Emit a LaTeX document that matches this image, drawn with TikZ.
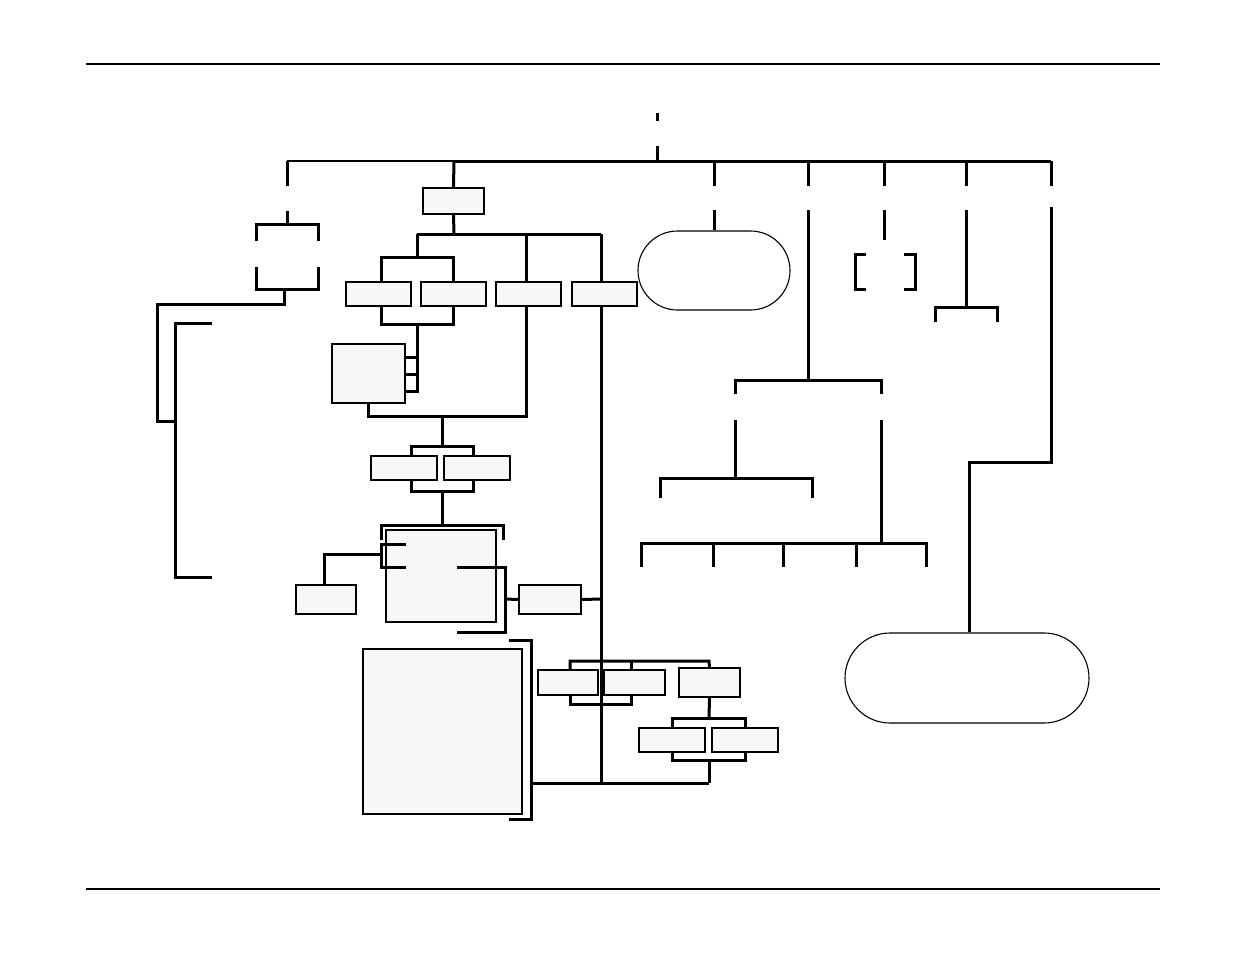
\documentclass[tikz,border=0pt]{standalone}
\begin{document}
\definecolor{boxgray}{HTML}{F7F7F7}
\begin{tikzpicture}[x=1pt,y=-1pt,
  wire/.style={line width=3pt},
  thinwire/.style={line width=2.5pt},
  rule/.style={line width=1.4pt},
  box/.style={draw, fill=boxgray, line width=1.1pt, inner sep=0pt},
  stadium/.style={draw, fill=white, line width=1.1pt, inner sep=0pt}]
\useasboundingbox (0,0) rectangle (1235,954);
% page rules
\coordinate (rl1) at (86,64); \coordinate (rr1) at (1160,64);
\coordinate (rl2) at (86,889); \coordinate (rr2) at (1160,889);
\draw[rule] (rl1) -- (rr1);
\draw[rule] (rl2) -- (rr2);
% boxes
\node[box, minimum width=61pt, minimum height=26pt] (b1) at (453.5,201) {};
\node[box, minimum width=65pt, minimum height=24pt] (bA) at (378.5,294) {};
\node[box, minimum width=65pt, minimum height=24pt] (bB) at (453.5,294) {};
\node[box, minimum width=65pt, minimum height=24pt] (bC) at (528.5,294) {};
\node[box, minimum width=65pt, minimum height=24pt] (bD) at (604.5,294) {};
\node[box, minimum width=73pt, minimum height=59pt] (bE) at (368.5,373.5) {};
\node[box, minimum width=66pt, minimum height=24pt] (bF) at (404,468) {};
\node[box, minimum width=66pt, minimum height=24pt] (bG) at (477,468) {};
\node[box, minimum width=110pt, minimum height=92pt] (bH) at (441,576) {};
\node[box, minimum width=60pt, minimum height=29pt] (bI) at (326,599.5) {};
\node[box, minimum width=62pt, minimum height=29pt] (bJ) at (550,599.5) {};
\node[box, minimum width=60pt, minimum height=25pt] (bK) at (568,682.5) {};
\node[box, minimum width=61pt, minimum height=25pt] (bL) at (634.5,682.5) {};
\node[box, minimum width=61pt, minimum height=29pt] (bM) at (709.5,682.5) {};
\node[box, minimum width=66pt, minimum height=24pt] (bN) at (672,740) {};
\node[box, minimum width=66pt, minimum height=24pt] (bO) at (745,740) {};
\node[box, minimum width=159pt, minimum height=165pt] (bP) at (442.5,731.5) {};
\node[stadium, rounded corners=39.5pt, minimum width=152pt, minimum height=79pt] (s1) at (714,270.5) {};
\node[stadium, rounded corners=45pt, minimum width=244pt, minimum height=90pt] (s2) at (967,678) {};
% top
\coordinate (top) at (657,161);
\draw[wire] (657,113) -- (657,121);
\draw[wire] (657,146) -- (top);
\draw[thinwire] (287,161) -- (454,161);
\draw[wire] (454,161) -- (1051,161);
\foreach \x in {287,714,808,884,966,1051} \draw[wire] (\x,161) -- (\x,186);
% left group
\draw[wire] (287,211) -- (287,224);
\draw[wire] (256,241) -- (256,224) -- (318,224) -- (318,241);
\draw[wire] (256,267) -- (256,289) -- (318,289) -- (318,267);
\draw[wire] (284,289) -- (284,304) -- (157,304) -- (157,421) -- (175,421);
\draw[wire] (212,323) -- (175,323) -- (175,577) -- (212,577);
% box 1 tree
\draw[wire] (454,161) -- (b1.north);
\draw[wire] (b1.south) -- (454,234);
\draw[wire] (417,234) -- (601,234);
\draw[wire] (417,234) -- (417,257);
\draw[wire] (381,282) -- (381,257) -- (453,257) -- (453,282);
\draw[wire] (526,234) -- (526,282);
\draw[wire] (601,234) -- (bD.north -| 601,0);
\draw[wire] (381,306) -- (381,324) -- (453,324) -- (453,306);
\draw[wire] (417,324) -- (417,391) -- (bE.east |- 0,391);
\draw[wire] (bE.east |- 0,357) -- (417,357);
\draw[wire] (bE.east |- 0,374) -- (417,374);
\draw[wire] (368,403) -- (368,416) -- (526,416) -- (526,306);
\draw[wire] (442,416) -- (442,446);
\draw[wire] (411,456) -- (411,446) -- (473,446) -- (473,456);
\draw[wire] (411,480) -- (411,491) -- (473,491) -- (473,480);
\draw[wire] (442,491) -- (442,525);
\draw[wire] (381,540) -- (381,525) -- (503,525) -- (503,540);
\draw[wire] (406,544) -- (381,544) -- (381,567) -- (406,567);
\draw[wire] (381,554) -- (324,554) -- (bI.north -| 324,0);
\draw[wire] (457,567) -- (505,567) -- (505,632) -- (457,632);
\draw[wire] (505,599) -- (bJ.west);
\draw[wire] (bJ.east) -- (601,599);
\draw[wire] (601,306) -- (601,783);
\draw[wire] (570,670) -- (570,661) -- (709,661) -- (bM.north);
\draw[wire] (631,661) -- (631,670);
\draw[wire] (570,695) -- (570,704) -- (631,704) -- (631,695);
\draw[wire] (bM.south) -- (709,718);
\draw[wire] (672,728) -- (672,718) -- (745,718) -- (745,728);
\draw[wire] (672,752) -- (672,760) -- (745,760) -- (745,752);
\draw[wire] (709,760) -- (709,783);
\draw[wire] (531,783) -- (709,783);
\draw[wire] (509,640) -- (531,640) -- (531,819) -- (509,819);
% right part
\draw[wire] (714,210) -- (s1.north);
\draw[wire] (808,210) -- (808,380);
\draw[wire] (735,394) -- (735,380) -- (881,380) -- (881,394);
\draw[wire] (735,420) -- (735,478);
\draw[wire] (660,498) -- (660,478) -- (812,478) -- (812,498);
\draw[wire] (881,420) -- (881,543);
\draw[wire] (641,567) -- (641,543) -- (926,543) -- (926,567);
\foreach \x in {713,783,856} \draw[wire] (\x,543) -- (\x,567);
\draw[wire] (884,210) -- (884,240);
\draw[wire] (866,254) -- (855,254) -- (855,289) -- (866,289);
\draw[wire] (904,254) -- (915,254) -- (915,289) -- (904,289);
\draw[wire] (966,210) -- (966,307);
\draw[wire] (935,322) -- (935,307) -- (997,307) -- (997,322);
\draw[wire] (1051,207) -- (1051,462) -- (969,462) -- (s2.north -| 969,0);
\end{tikzpicture}
\end{document}
